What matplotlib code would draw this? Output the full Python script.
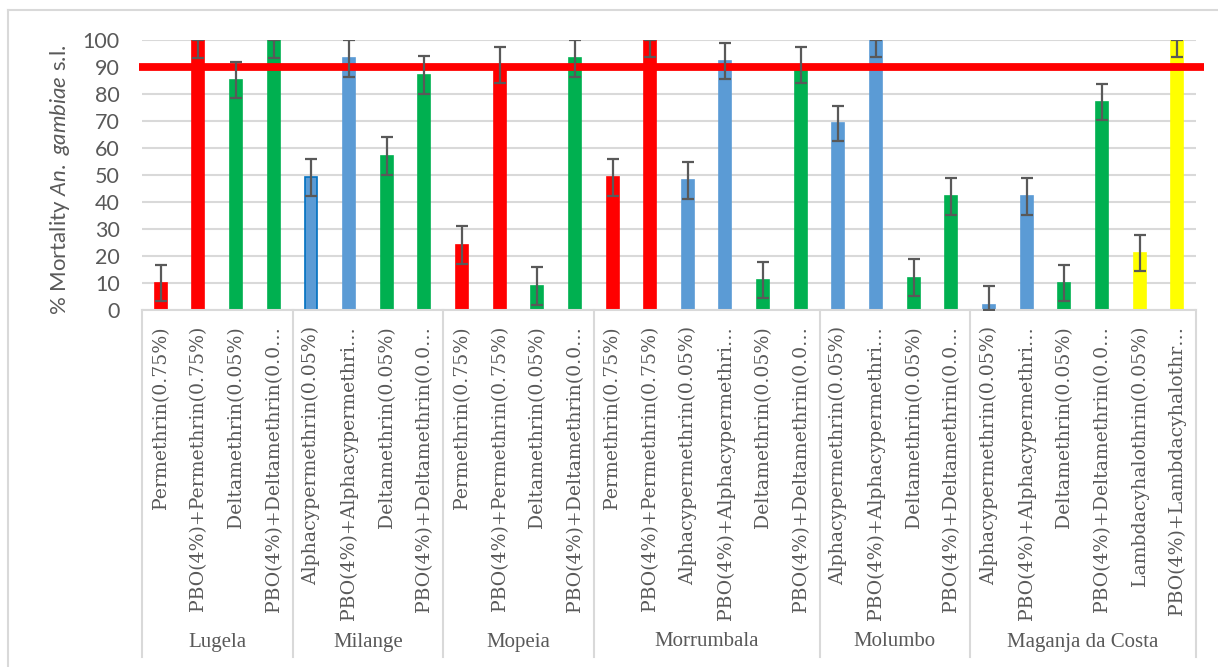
import numpy as np
import matplotlib
matplotlib.use("Agg")
import matplotlib.pyplot as plt
from matplotlib.lines import Line2D

# data
districts = ["Lugela", "Milange", "Mopeia", "Morrumbala", "Molumbo", "Maganja da Costa"]
group_sizes = [4, 4, 4, 6, 4, 6]
tick_labels = [
    "Permethrin(0.75%)", "PBO(4%)+Permethrin(0.75%)", "Deltamethrin(0.05%)", "PBO(4%)+Deltamethrin(0.0\u2026",
    "Alphacypermethrin(0.05%)", "PBO(4%)+Alphacypermethri\u2026", "Deltamethrin(0.05%)", "PBO(4%)+Deltamethrin(0.0\u2026",
    "Permethrin(0.75%)", "PBO(4%)+Permethrin(0.75%)", "Deltamethrin(0.05%)", "PBO(4%)+Deltamethrin(0.0\u2026",
    "Permethrin(0.75%)", "PBO(4%)+Permethrin(0.75%)", "Alphacypermethrin(0.05%)", "PBO(4%)+Alphacypermethri\u2026",
    "Deltamethrin(0.05%)", "PBO(4%)+Deltamethrin(0.0\u2026",
    "Alphacypermethrin(0.05%)", "PBO(4%)+Alphacypermethri\u2026", "Deltamethrin(0.05%)", "PBO(4%)+Deltamethrin(0.0\u2026",
    "Alphacypermethrin(0.05%)", "PBO(4%)+Alphacypermethri\u2026", "Deltamethrin(0.05%)", "PBO(4%)+Deltamethrin(0.0\u2026",
    "Lambdacyhalothrin(0.05%)", "PBO(4%)+Lambdacyhalothr\u2026",
]
insecticide = [
    "perm", "perm", "delta", "delta",
    "alpha", "alpha", "delta", "delta",
    "perm", "perm", "delta", "delta",
    "perm", "perm", "alpha", "alpha", "delta", "delta",
    "alpha", "alpha", "delta", "delta",
    "alpha", "alpha", "delta", "delta", "lambda", "lambda",
]
mortality = [10, 100, 85, 100,
             49, 93, 57, 87,
             24, 90.5, 9, 93,
             49, 100, 48, 92, 11, 90.5,
             69, 100, 12, 42,
             2, 42, 10, 77, 21, 100]
err = [6.6, 6.7, 6.8, 6.7,
       6.8, 6.7, 7.0, 7.0,
       7.0, 6.7, 7.0, 6.7,
       6.8, 6.5, 6.8, 6.7, 6.6, 6.7,
       6.6, 6.5, 6.7, 6.7,
       6.8, 6.7, 6.7, 6.7, 6.7, 6.5]
threshold = 90

colours = {"perm": "#FF0000", "alpha": "#5B9BD5", "delta": "#00B050", "lambda": "#FFFF00"}
grey = "#595959"
light = "#D9D9D9"

W, H = 1218, 667
fig = plt.figure(figsize=(W / 100, H / 100), dpi=100)
ax_l, ax_r, ax_t, ax_b = 142, 1196, 39.5, 310
ax = fig.add_axes([ax_l / W, 1 - ax_b / H, (ax_r - ax_l) / W, (ax_b - ax_t) / H])
ax_h = ax_b - ax_t

x = np.arange(len(mortality))
vals = np.array(mortality, dtype=float)
e = np.array(err)
lo = vals - np.maximum(vals - e, 0)
hi = np.minimum(vals + e, 100) - vals

bar_cols = [colours[k] for k in insecticide]
edge_cols = list(bar_cols)
edge_cols[4] = "#0070C0"
ax.bar(x, vals, width=0.32, color=bar_cols, edgecolor=edge_cols, linewidth=1.2, zorder=2)
ax.axhline(threshold, xmin=-0.003, xmax=1.0076, color="#FF0000", lw=5.6, zorder=3,
           clip_on=False, solid_capstyle="butt")
ax.errorbar(x, vals, yerr=[lo, hi], fmt="none", ecolor=grey, elinewidth=1.6,
            capsize=4.2, capthick=1.6, zorder=4)

ax.set_xlim(-0.5, len(x) - 0.5)
ax.set_ylim(0, 100)
ax.set_yticks(np.arange(0, 101, 10))
ax.yaxis.grid(True, color=light, lw=1.5, zorder=0)
ax.set_axisbelow(True)
for s in ["left", "right", "top"]:
    ax.spines[s].set_visible(False)
ax.spines["bottom"].set_color(light)
ax.spines["bottom"].set_linewidth(1.5)
ax.set_xticks([])
ax.tick_params(axis="y", length=0, pad=16, labelsize=15.5, labelcolor=grey)
for t in ax.get_yticklabels():
    t.set_fontfamily("Lato")

# category labels
trans = ax.get_xaxis_transform()
for i, lab in enumerate(tick_labels):
    ax.text(i, -16 / ax_h, lab, transform=trans, rotation=90, ha="center", va="top",
            fontsize=13.6, color=grey, family="DejaVu Serif")

# district labels and separators
bounds = np.concatenate([[0], np.cumsum(group_sizes)]) - 0.5
for b in bounds:
    ax.add_line(Line2D([b, b], [0, -(657 - ax_b) / ax_h], transform=trans, color=light,
                       lw=1.5, clip_on=False))
for name, a, b in zip(districts, bounds[:-1], bounds[1:]):
    ax.text((a + b) / 2, -(642 - ax_b) / ax_h, name, transform=trans, ha="center", va="center",
            fontsize=15, color=grey, family="Liberation Serif")

plt.rcParams["mathtext.fontset"] = "custom"
plt.rcParams["mathtext.rm"] = "Lato"
plt.rcParams["mathtext.it"] = "Lato:italic"
fig.text(60 / W, 1 - 180 / H, r"% Mortality $\mathit{An.\ gambiae}$ s.l.", rotation=90,
         ha="center", va="center", fontsize=16, color=grey, family="Lato")

# outer frame
fig.add_artist(Line2D([8 / W, 1], [1 - 10 / H, 1 - 10 / H], color=light, lw=1.5))
fig.add_artist(Line2D([8 / W, 8 / W], [0, 1 - 10 / H], color=light, lw=1.5))

fig.savefig("out.png", dpi=100)
